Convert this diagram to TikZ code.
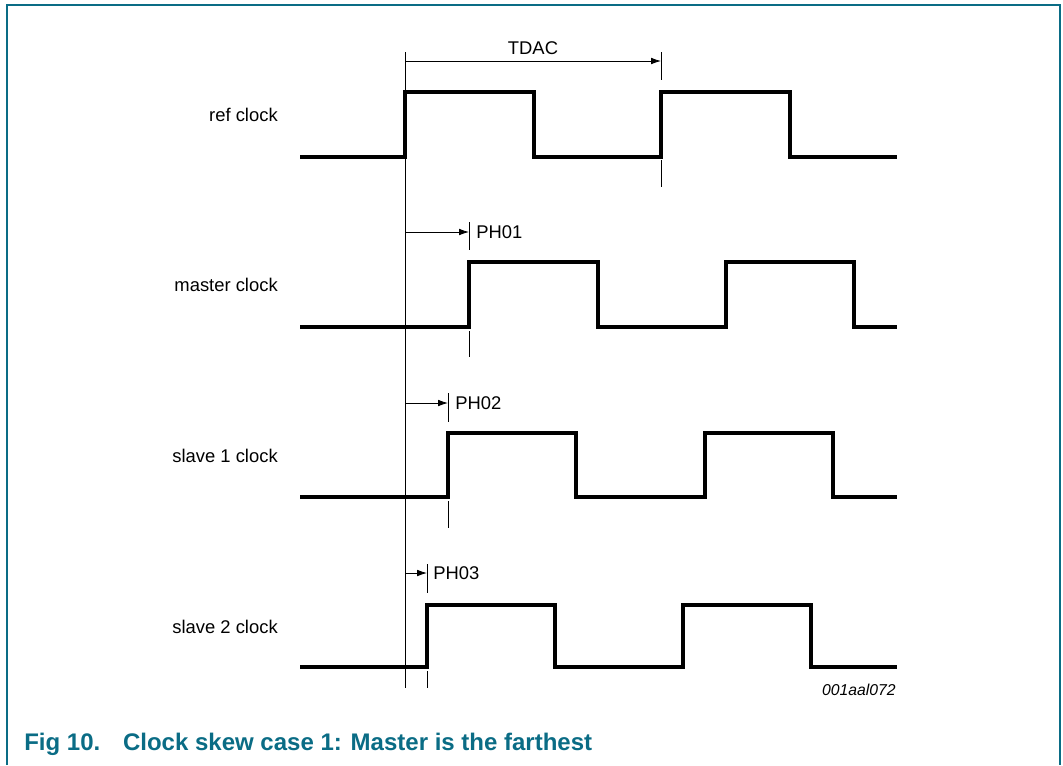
\documentclass[tikz,border=0pt]{standalone}
\usepackage{fontspec}
\setmainfont{Liberation Sans}
\usetikzlibrary{arrows.meta}
\definecolor{nxpteal}{RGB}{10,108,133}
\tikzset{
  sig/.style={line width=2.4pt, line join=miter},
  thin/.style={line width=0.6pt},
  dim/.style={line width=0.6pt, -{Latex[length=7.5pt,width=5pt]}},
  lbl/.style={font=\fontsize{13.8pt}{16pt}\selectfont, inner sep=0pt},
}
\begin{document}
\begin{tikzpicture}[x=0.75pt,y=-0.75pt]
\useasboundingbox (0,0) rectangle (1063,765);
\draw[nxpteal, line width=1.5pt] (7,765) -- (7,5) -- (1060,5) -- (1060,765);

% labels
\node[lbl, anchor=east] (lref) at (278,115) {ref clock};
\node[lbl, anchor=east] (lmas) at (278,285) {master clock};
\node[lbl, anchor=east] (ls1) at (278,456) {slave 1 clock};
\node[lbl, anchor=east] (ls2) at (278,627) {slave 2 clock};

% signals
\draw[sig] (300,157) -- (405,157) -- (405,92) -- (534,92) -- (534,157) -- (661,157) -- (661,92) -- (790,92) -- (790,157) -- (897,157);
\draw[sig] (300,327) -- (469,327) -- (469,262) -- (598,262) -- (598,327) -- (726,327) -- (726,262) -- (854,262) -- (854,327) -- (897,327);
\draw[sig] (300,497) -- (448,497) -- (448,433) -- (576,433) -- (576,497) -- (705,497) -- (705,433) -- (833,433) -- (833,497) -- (897,497);
\draw[sig] (300,667) -- (427,667) -- (427,605) -- (555,605) -- (555,667) -- (683,667) -- (683,605) -- (811,605) -- (811,667) -- (897,667);

% reference vertical line
\coordinate (reftop) at (405,52);
\coordinate (refbot) at (405,688);
\draw[thin] (reftop) -- (refbot);

% TDAC
\coordinate (tdacA) at (405,61);
\coordinate (tdacB) at (661,61);
\draw[dim] (tdacA) -- (tdacB);
\draw[thin] (661,52) -- (661,80);
\draw[thin] (661,160) -- (661,187);
\node[lbl] (tdac) at (533,48) {TDAC};

% PH01
\coordinate (p1A) at (405,232);
\coordinate (p1B) at (469,232);
\draw[dim] (p1A) -- (p1B);
\draw[thin] (469,222) -- (469,250);
\draw[thin] (469,331) -- (469,357);
\node[lbl, anchor=west] (ph1) at (476,232) {PH01};

% PH02
\coordinate (p2A) at (405,403);
\coordinate (p2B) at (448,403);
\draw[dim] (p2A) -- (p2B);
\draw[thin] (448,393) -- (448,422);
\draw[thin] (448,501) -- (448,528);
\node[lbl, anchor=west] (ph2) at (455,403) {PH02};

% PH03
\coordinate (p3A) at (405,573);
\coordinate (p3B) at (427,573);
\draw[dim] (p3A) -- (p3B);
\draw[thin] (427,564) -- (427,593);
\draw[thin] (427,671) -- (427,688);
\node[lbl, anchor=west] (ph3) at (433,573) {PH03};

\node[font=\fontsize{11.8pt}{14pt}\selectfont\itshape, inner sep=0pt, anchor=east] (code) at (896,690) {001aal072};

\node[font=\fontsize{18pt}{20pt}\selectfont\bfseries, text=nxpteal, inner sep=0pt, anchor=base west] (cap) at (24,750) {Fig 10.\hspace{0.95em}Clock skew case 1: Master is the farthest};
\end{tikzpicture}
\end{document}
